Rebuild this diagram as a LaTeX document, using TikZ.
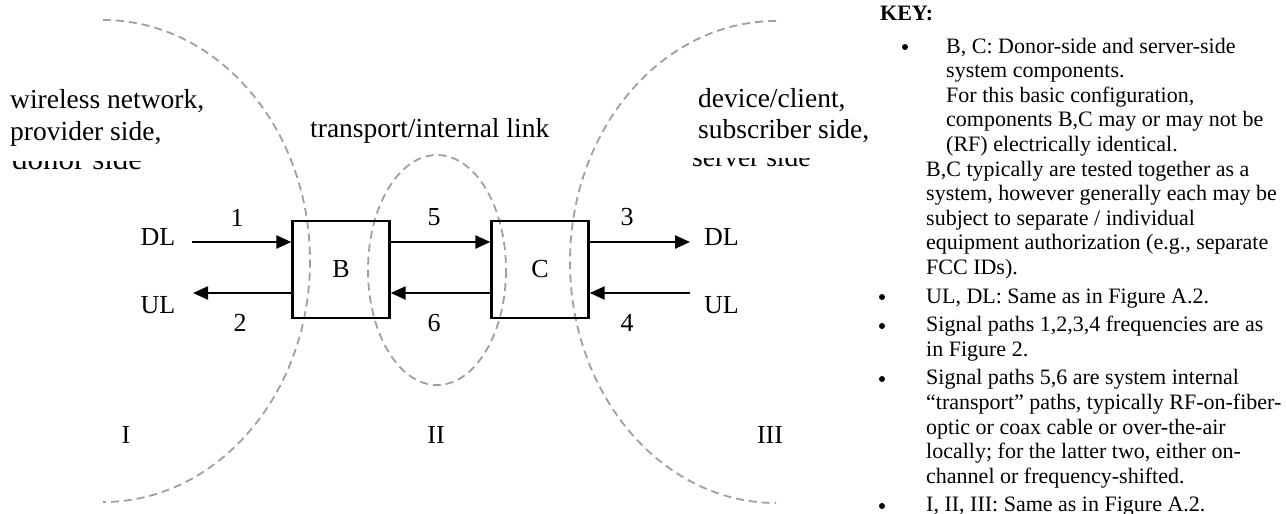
\documentclass[tikz,border=0pt]{standalone}
\usepackage{fontspec}
\setmainfont{Liberation Serif}
\usetikzlibrary{arrows.meta,positioning,calc}

\tikzset{
  zone/.style={gray!75, line width=1.8pt, dash pattern=on 8pt off 5pt},
  sig/.style={-{Triangle[length=15pt,width=13pt]}, line width=2.4pt},
  unit/.style={draw, line width=2.4pt, minimum width=97pt, minimum height=97pt, font=\fontsize{26}{28}\selectfont},
  lbl/.style={font=\fontsize{26}{28}\selectfont, inner sep=0pt},
  side/.style={font=\fontsize{27.5}{31}\selectfont, inner sep=0pt, anchor=base west},
  keyline/.style={font=\fontsize{22}{24}\selectfont, inner sep=0pt, anchor=base west},
  dot/.style={circle, fill, inner sep=0pt, minimum size=6pt}
}

\begin{document}
\begin{tikzpicture}[x=1pt, y=-1pt]
    \useasboundingbox (0,0) rectangle (1286,514);
    % regions I, II, III
    \draw[zone] (103,20) arc[start angle=-90, end angle=90, x radius=207, y radius=241]; % I
    \draw[zone] (437,270) ellipse (69 and 115);                                        % II
    \draw[zone] (776,21) arc[start angle=270, end angle=90, x radius=206, y radius=241]; % III

    \node[side] (wl1) at (10,108) {wireless network,};
    \node[side] (wl2) at (10,140) {provider side,};
    \begin{scope}
        \clip (0,161) rectangle (300,185);
        \node[side, font=\fontsize{31}{31}\selectfont] (wl3) at (12,169) {donor side};
    \end{scope}
    \node[side] (tl) at (310,137) {transport/internal link};
    \node[side] (dc1) at (698,107) {device/client,};
    \node[side] (dc2) at (698,138) {subscriber side,};
    \begin{scope}
        \clip (600,158) rectangle (880,185);
        \node[side] (dc3) at (692,166) {server side};
    \end{scope}

    % components
    \node[unit] (B) at (341,269.5) {B};
    \node[unit] (C) at (540,269.5) {C};

    \coordinate (dlin)  at (192,242);
    \coordinate (ulout) at (193,293);
    \coordinate (dlout) at (690,242);
    \coordinate (ulin)  at (690,293);

    \draw[sig] (dlin) -- (dlin -| B.west);
    \draw[sig] (B.west |- ulout) -- (ulout);
    \draw[sig] (B.east |- dlin) -- (C.west |- dlin);
    \draw[sig] (C.west |- ulout) -- (B.east |- ulout);
    \draw[sig] (C.east |- dlout) -- (dlout);
    \draw[sig] (ulin) -- (C.east |- ulin);

    \node[lbl] (n1) at (237,218) {1};
    \node[lbl] (n2) at (240,323) {2};
    \node[lbl] (n5) at (434,217) {5};
    \node[lbl] (n6) at (434,323) {6};
    \node[lbl] (n3) at (627,217) {3};
    \node[lbl] (n4) at (627,323) {4};

    \node[lbl] (dll) at (158,237) {DL};
    \node[lbl] (ull) at (158,305) {UL};
    \node[lbl, anchor=west] (dlr) at (704,237) {DL};
    \node[lbl, anchor=west] (ulr) at (704,305) {UL};

    \node[lbl] (r1) at (126,435) {I};
    \node[lbl] (r2) at (436,435) {II};
    \node[lbl] (r3) at (770,435) {III};

    % key
    \node[keyline, font=\fontsize{22}{24}\selectfont\bfseries] (key) at (880,20) {KEY:};
    \foreach \xx/\yy in {905/47, 882/297, 882/326, 882/379, 882/506}
        \node[dot] at (\xx,\yy) {};
    \foreach \xx/\yy/\txt in {
        946/53/{B, C: Donor-side and server-side},
        946/77.6/{system components.},
        946/102.2/{For this basic configuration,},
        946/126.8/{components B,C may or may not be},
        946/151.4/{(RF) electrically identical.},
        926/176/{B,C typically are tested together as a},
        926/200.6/{system, however generally each may be},
        926/225.2/{subject to separate / individual},
        926/249.8/{equipment authorization (e.g., separate},
        926/274.4/{FCC IDs).},
        926/303/{UL, DL: Same as in Figure A.2.},
        926/331.6/{Signal paths 1,2,3,4 frequencies are as},
        926/356.2/{in Figure 2.},
        926/384.8/{Signal paths 5,6 are system internal},
        926/409.4/{``transport'' paths, typically RF-on-fiber-},
        926/434/{optic or coax cable or over-the-air},
        926/458.6/{locally; for the latter two, either on-},
        926/483.2/{channel or frequency-shifted.},
        926/511/{I, II, III: Same as in Figure A.2.}}
        \node[keyline] at (\xx,\yy) {\txt};
\end{tikzpicture}
\end{document}
